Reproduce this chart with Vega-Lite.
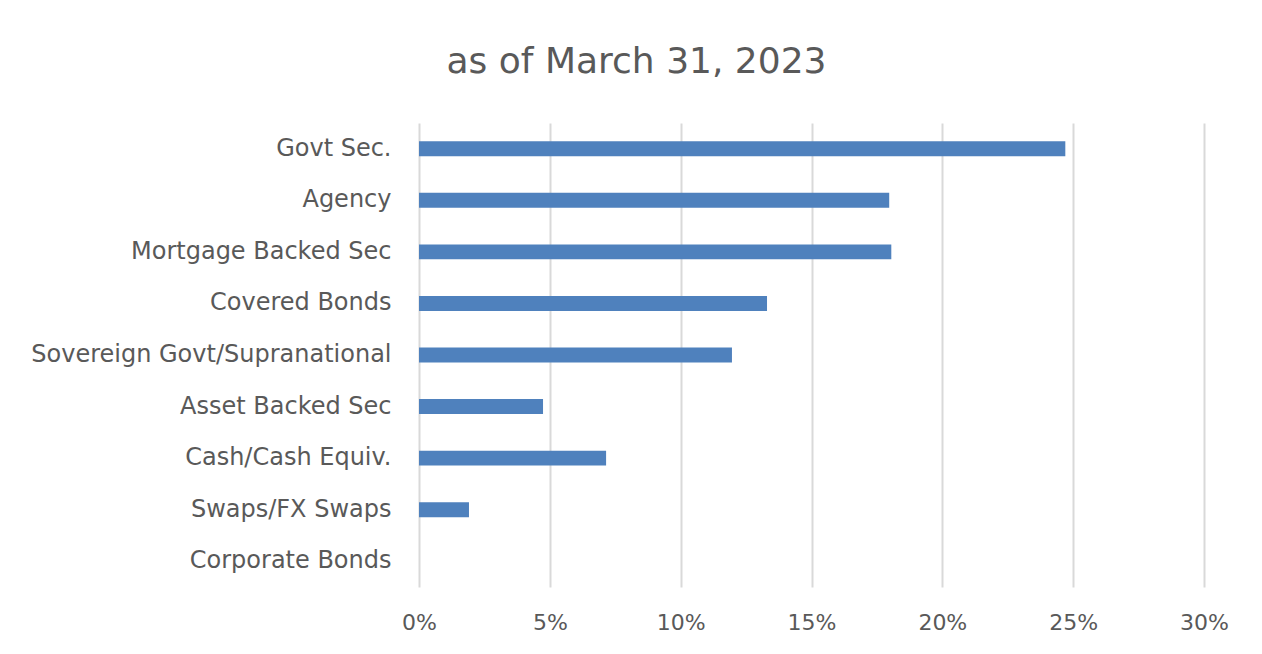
{
  "$schema": "https://vega.github.io/schema/vega-lite/v6.json",
  "autosize": {"type": "none"},
  "padding": {"left": 419, "top": 123, "right": 58, "bottom": 67},
  "width": 785,
  "height": 464,
  "background": "white",
  "title": {
    "text": "as of March 31, 2023",
    "font": "DejaVu Sans",
    "fontSize": 36,
    "fontWeight": "normal",
    "color": "#595959",
    "anchor": "middle",
    "frame": "group",
    "dx": -175,
    "offset": 42
  },
  "data": {
    "values": [
      {"sector": "Govt Sec.", "pct": 0.247},
      {"sector": "Agency", "pct": 0.1797},
      {"sector": "Mortgage Backed Sec", "pct": 0.1805},
      {"sector": "Covered Bonds", "pct": 0.133},
      {"sector": "Sovereign Govt/Supranational", "pct": 0.1196},
      {"sector": "Asset Backed Sec", "pct": 0.0474},
      {"sector": "Cash/Cash Equiv.", "pct": 0.0715},
      {"sector": "Swaps/FX Swaps", "pct": 0.0191},
      {"sector": "Corporate Bonds", "pct": 0}
    ]
  },
  "mark": {"type": "bar", "color": "#4f81bd"},
  "encoding": {
    "y": {
      "field": "sector",
      "type": "nominal",
      "sort": null,
      "scale": {"paddingInner": 0.71, "paddingOuter": 0.355},
      "axis": {
        "title": null,
        "ticks": false,
        "domain": false,
        "labelFont": "DejaVu Sans",
        "labelFontSize": 24,
        "labelColor": "#595959",
        "labelPadding": 28,
        "labelLimit": 500
      }
    },
    "x": {
      "field": "pct",
      "type": "quantitative",
      "scale": {"domain": [0, 0.3], "nice": false},
      "axis": {
        "title": null,
        "format": ".0%",
        "values": [0, 0.05, 0.1, 0.15, 0.2, 0.25, 0.3],
        "ticks": false,
        "domain": false,
        "grid": true,
        "gridColor": "#d9d9d9",
        "gridWidth": 2,
        "labelFlush": false,
        "labelFont": "DejaVu Sans",
        "labelFontSize": 22,
        "labelColor": "#595959",
        "labelPadding": 25
      }
    }
  },
  "config": {"view": {"stroke": null}}
}
